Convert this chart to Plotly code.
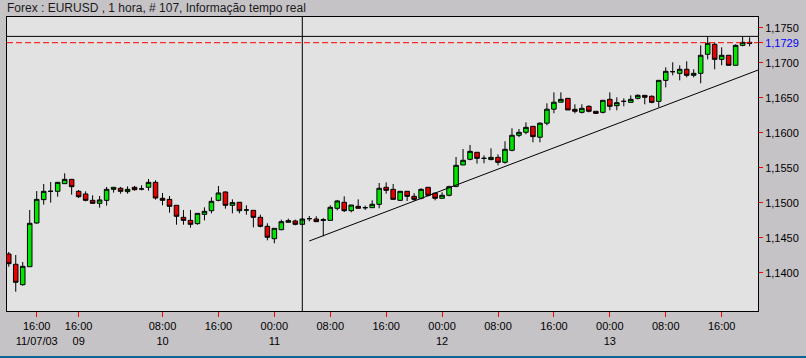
import plotly.graph_objects as go

# ---- data ----
opens = [1.14271, 1.14124, 1.13833, 1.14090, 1.14714, 1.15048, 1.15167, 1.15167, 1.15276, 1.15338,
         1.15167, 1.15129, 1.15038, 1.14995, 1.15038, 1.15195, 1.15210, 1.15162, 1.15224, 1.15200,
         1.15224, 1.15295, 1.15067, 1.15052, 1.14967, 1.14795, 1.14752, 1.14705, 1.14838, 1.14890,
         1.15038, 1.15157, 1.14967, 1.15010, 1.14900, 1.14895, 1.14795, 1.14667, 1.14490, 1.14619,
         1.14724, 1.14743, 1.14695, 1.14776, 1.14771, 1.14750, 1.14752, 1.14924, 1.15010, 1.14890,
         1.14952, 1.14933, 1.14933, 1.14981, 1.15224, 1.15195, 1.15038, 1.15167, 1.15095, 1.15067,
         1.15224, 1.15140, 1.15067, 1.15110, 1.15238, 1.15543, 1.15624, 1.15724, 1.15638, 1.15620,
         1.15652, 1.15581, 1.15752, 1.15967, 1.16010, 1.16095, 1.15940, 1.16140, 1.16340, 1.16440,
         1.16495, 1.16338, 1.16295, 1.16381, 1.16310, 1.16295, 1.16481, 1.16390, 1.16452, 1.16438,
         1.16495, 1.16538, 1.16524, 1.16452, 1.16752, 1.16876, 1.16852, 1.16910, 1.16824, 1.16852,
         1.17124, 1.17267, 1.17052, 1.17110, 1.16967, 1.17252, 1.17295]
highs = [1.14300, 1.14257, 1.14157, 1.14900, 1.15171, 1.15271, 1.15300, 1.15300, 1.15424, 1.15338,
         1.15186, 1.15167, 1.15110, 1.15100, 1.15229, 1.15224, 1.15229, 1.15238, 1.15243, 1.15252,
         1.15343, 1.15324, 1.15143, 1.15100, 1.14967, 1.14900, 1.14900, 1.14852, 1.14938, 1.15081,
         1.15243, 1.15167, 1.15052, 1.15010, 1.14967, 1.14895, 1.14833, 1.14710, 1.14638, 1.14762,
         1.14776, 1.14762, 1.14786, 1.14814, 1.14810, 1.14786, 1.14967, 1.15043, 1.15095, 1.14971,
         1.15052, 1.14962, 1.15038, 1.15286, 1.15295, 1.15271, 1.15167, 1.15167, 1.15140, 1.15210,
         1.15224, 1.15152, 1.15152, 1.15248, 1.15657, 1.15771, 1.15829, 1.15724, 1.15681, 1.15781,
         1.15695, 1.15881, 1.16067, 1.16057, 1.16152, 1.16095, 1.16152, 1.16424, 1.16581, 1.16581,
         1.16495, 1.16410, 1.16410, 1.16395, 1.16310, 1.16467, 1.16581, 1.16510, 1.16495, 1.16538,
         1.16552, 1.16538, 1.16538, 1.16752, 1.16938, 1.17010, 1.16967, 1.17024, 1.16910, 1.17252,
         1.17381, 1.17295, 1.17224, 1.17110, 1.17267, 1.17381, 1.17367]
lows = [1.14090, 1.13733, 1.13819, 1.14090, 1.14705, 1.14976, 1.15005, 1.15090, 1.15276, 1.15119,
        1.15071, 1.15024, 1.14995, 1.14933, 1.14962, 1.15148, 1.15133, 1.15133, 1.15176, 1.15181,
        1.15176, 1.15048, 1.14967, 1.14862, 1.14690, 1.14690, 1.14648, 1.14690, 1.14752, 1.14852,
        1.15024, 1.14919, 1.14852, 1.14852, 1.14833, 1.14652, 1.14652, 1.14467, 1.14424, 1.14610,
        1.14724, 1.14681, 1.14695, 1.14738, 1.14733, 1.14524, 1.14752, 1.14895, 1.14871, 1.14867,
        1.14924, 1.14900, 1.14929, 1.14924, 1.15133, 1.15052, 1.15029, 1.15029, 1.15029, 1.15052,
        1.15095, 1.15038, 1.15067, 1.15095, 1.15224, 1.15543, 1.15610, 1.15562, 1.15567, 1.15610,
        1.15538, 1.15562, 1.15738, 1.15940, 1.15981, 1.15867, 1.15867, 1.16110, 1.16281, 1.16440,
        1.16329, 1.16280, 1.16280, 1.16295, 1.16280, 1.16280, 1.16324, 1.16324, 1.16381, 1.16438,
        1.16480, 1.16410, 1.16424, 1.16367, 1.16652, 1.16824, 1.16752, 1.16795, 1.16795, 1.16710,
        1.17052, 1.16910, 1.16967, 1.16967, 1.16967, 1.17238, 1.17238]
closes = [1.14133, 1.13867, 1.14095, 1.14710, 1.15052, 1.15167, 1.15167, 1.15295, 1.15338, 1.15233,
          1.15090, 1.15038, 1.14995, 1.15043, 1.15195, 1.15224, 1.15167, 1.15195, 1.15190, 1.15200,
          1.15295, 1.15071, 1.15038, 1.14952, 1.14810, 1.14752, 1.14695, 1.14852, 1.14881, 1.15024,
          1.15143, 1.14967, 1.15005, 1.14890, 1.14900, 1.14795, 1.14667, 1.14510, 1.14638, 1.14733,
          1.14748, 1.14695, 1.14771, 1.14776, 1.14733, 1.14762, 1.14938, 1.15029, 1.14890, 1.14971,
          1.14924, 1.14933, 1.14981, 1.15210, 1.15181, 1.15052, 1.15167, 1.15095, 1.15052, 1.15195,
          1.15110, 1.15067, 1.15110, 1.15233, 1.15538, 1.15610, 1.15738, 1.15638, 1.15638, 1.15652,
          1.15581, 1.15767, 1.15967, 1.16010, 1.16081, 1.15948, 1.16140, 1.16340, 1.16440, 1.16481,
          1.16329, 1.16310, 1.16352, 1.16310, 1.16280, 1.16467, 1.16381, 1.16433, 1.16452, 1.16481,
          1.16538, 1.16510, 1.16438, 1.16752, 1.16881, 1.16876, 1.16910, 1.16824, 1.16852, 1.17110,
          1.17281, 1.17052, 1.17110, 1.16967, 1.17252, 1.17295, 1.17281]
bar_index = list(range(len(opens)))

tick_index = [4, 10, 22, 30, 38, 46, 54, 62, 70, 78, 86, 94, 102]
tick_times = ["16:00", "16:00", "08:00", "16:00", "00:00", "08:00", "16:00",
              "00:00", "08:00", "16:00", "00:00", "08:00", "16:00"]
tick_dates = ["11/07/03", "09", "10", "", "11", "", "", "12", "", "", "13", "", ""]

price_ticks = [1.1400, 1.1450, 1.1500, 1.1550, 1.1600, 1.1650, 1.1700, 1.1750]
last_price = 1.1729
high_level = 1.1738
session_bar = 42
trend_x = [43, 108]
trend_y = [1.14457, 1.16929]

title_text = "Forex : EURUSD , 1 hora, # 107, Informação tempo real"

# ---- figure ----
FONT = "Liberation Sans, Arial, sans-serif"
x_ticktext = [t + ("<br>" + d if d else "") for t, d in zip(tick_times, tick_dates)]
y_tickvals = price_ticks + [last_price]
y_ticktext = [f"{v:.4f}".replace(".", ",") for v in price_ticks] + \
             ['<span style="color:#0000ff">' + f"{last_price:.4f}".replace(".", ",") + "</span>"]

fig = go.Figure()
fig.add_trace(go.Candlestick(
    x=bar_index, open=opens, high=highs, low=lows, close=closes,
    increasing=dict(fillcolor="#00e600", line=dict(color="#000000", width=1)),
    decreasing=dict(fillcolor="#e60000", line=dict(color="#000000", width=1)),
    whiskerwidth=0, showlegend=False, hoverinfo="skip"))
fig.add_trace(go.Scatter(x=trend_x, y=trend_y, mode="lines",
                         line=dict(color="#000000", width=1), showlegend=False, hoverinfo="skip"))

fig.add_shape(type="line", xref="x", yref="paper", x0=session_bar, x1=session_bar, y0=0, y1=1,
              line=dict(color="#000000", width=1))
fig.add_shape(type="line", xref="paper", yref="y", x0=0, x1=1, y0=high_level, y1=high_level,
              line=dict(color="#000000", width=1))
fig.add_shape(type="line", xref="paper", yref="y", x0=0, x1=1, y0=last_price, y1=last_price,
              line=dict(color="#ff0000", width=1, dash="6px,3px"))
# bottom blue strip of the window
fig.add_shape(type="rect", xref="paper", yref="paper", x0=-0.02, x1=1.08, y0=-0.153, y1=-0.2,
              line=dict(width=0), fillcolor="#0f6496", layer="above")

fig.update_layout(
    width=806, height=358,
    margin=dict(l=7, r=48, t=17, b=47, autoexpand=False),
    paper_bgcolor="#c6c3c7", plot_bgcolor="#e2e2e2",
    font=dict(family=FONT, size=11, color="#000000"),
    title=dict(text=title_text, x=7 / 806, xanchor="left", xref="container",
               y=1 - 8 / 358, yanchor="middle", yref="container",
               font=dict(family=FONT, size=12, color="#1a1a1a"), automargin=False),
    boxgap=0.35, boxgroupgap=0,
    xaxis=dict(range=[-0.25, 107.2], rangeslider=dict(visible=False), showgrid=False,
               zeroline=False, showline=True, linecolor="#000000", linewidth=1, mirror=True,
               tickmode="array", tickvals=tick_index, ticktext=x_ticktext, automargin=False,
               ticks="outside", ticklen=5, tickcolor="#ff0000", tickwidth=1),
    yaxis=dict(range=[1.13457, 1.17657], side="right", showgrid=False, zeroline=False,
               showline=True, linecolor="#000000", linewidth=1, mirror=True, automargin=False,
               tickmode="array", tickvals=y_tickvals, ticktext=y_ticktext,
               ticks="outside", ticklen=4, tickcolor="#ff0000", tickwidth=1),
    hovermode=False,
)

fig.write_html("out.html", config={"displayModeBar": False},
               post_script="document.body.style.margin='0';document.body.style.padding='0';")
